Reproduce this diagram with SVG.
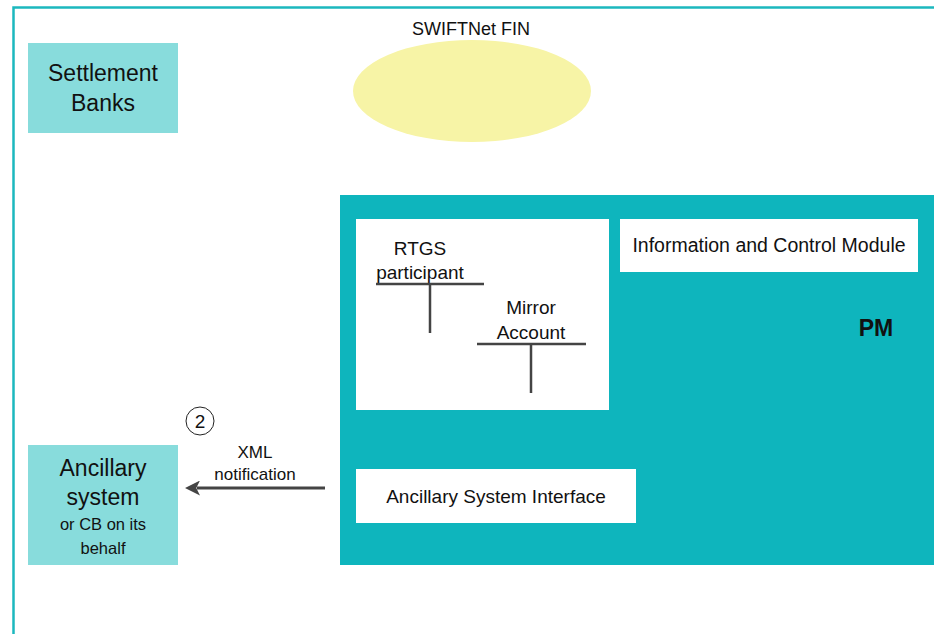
<svg xmlns="http://www.w3.org/2000/svg" width="934" height="634" viewBox="0 0 934 634">
<defs>
<style>
text{font-family:"Liberation Sans","Noto Sans",sans-serif;fill:#111;text-anchor:middle}
.t18{font-size:19px}
.t21{font-size:23px}
.t15{font-size:16.5px}
.ext{fill:#88DCDC}
.wb{fill:#fff}
.tl{stroke:#444;stroke-width:2.5;fill:none}
</style>
<marker id="ah" viewBox="0 0 10 10" refX="2" refY="5" markerWidth="5" markerHeight="5" orient="auto-start-reverse" markerUnits="strokeWidth">
<path d="M0,0 L10,5 L0,10 L2.5,5 z" fill="#444"/>
</marker>
</defs>
<rect width="934" height="634" fill="#fff"/>
<path d="M13.5,634 V7.5 H934" fill="none" stroke="#1CB8BE" stroke-width="2.5"/>

<g id="swiftnet">
<ellipse cx="472" cy="91" rx="119" ry="51" fill="#F7F4A6"/>
<text x="471" y="35" style="font-size:18px">SWIFTNet FIN</text>
</g>

<g id="settlement-banks">
<rect class="ext" x="28" y="43" width="150" height="90"/>
<text class="t21" x="103" y="81">Settlement</text>
<text class="t21" x="103" y="111">Banks</text>
</g>

<g id="pm">
<rect x="340" y="195" width="600" height="370" fill="#0EB5BD"/>
<text x="876" y="336" style="font-size:23px;font-weight:bold">PM</text>
</g>

<g id="accounts">
<rect class="wb" x="356" y="219" width="253" height="191"/>
<text class="t18" x="420" y="255">RTGS</text>
<text class="t18" x="420" y="279">participant</text>
<path class="tl" d="M376,284 H484 M430,284 V333"/>
<text class="t18" x="531" y="314">Mirror</text>
<text class="t18" x="531" y="339">Account</text>
<path class="tl" d="M477,344 H586 M531,344 V393"/>
</g>

<g id="icm">
<rect class="wb" x="620" y="219" width="298" height="53"/>
<text x="769" y="252" style="font-size:19.5px">Information and Control Module</text>
</g>

<g id="asi">
<rect class="wb" x="356" y="469" width="280" height="54"/>
<text class="t18" x="496" y="503">Ancillary System Interface</text>
</g>

<g id="ancillary-system">
<rect class="ext" x="28" y="445" width="150" height="120"/>
<text class="t21" x="103" y="476">Ancillary</text>
<text class="t21" x="103" y="505">system</text>
<text class="t15" x="103" y="530">or CB on its</text>
<text class="t15" x="103" y="554">behalf</text>
</g>

<g id="connectors">
<line x1="325" y1="488" x2="197" y2="488" stroke="#444" stroke-width="3" marker-end="url(#ah)"/>
<text x="255" y="458" style="font-size:17px">XML</text>
<text x="255" y="480" style="font-size:17px">notification</text>
<circle cx="200" cy="421" r="14" fill="#fff" stroke="#222" stroke-width="1"/>
<text class="t18" x="200" y="428">2</text>
</g>
</svg>
